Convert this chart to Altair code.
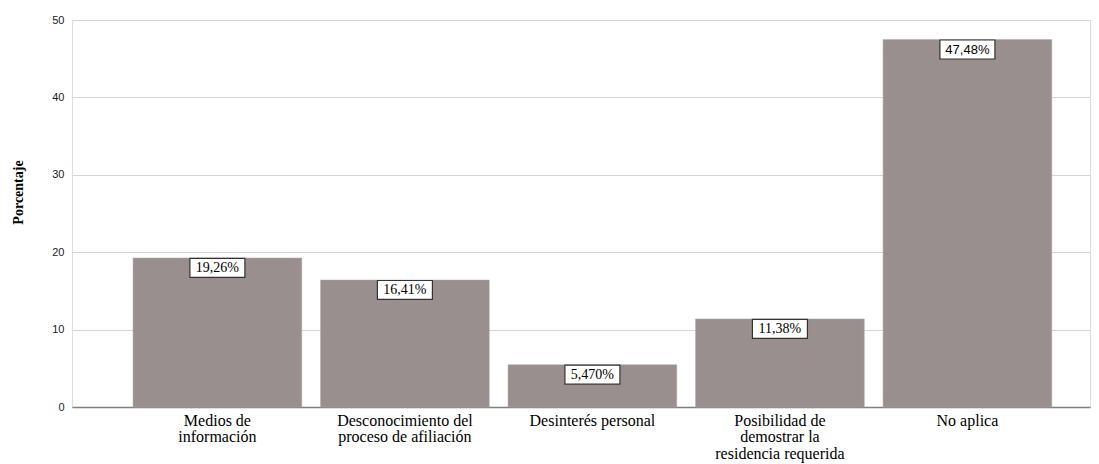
import altair as alt
import pandas as pd

categories = [
    "Medios de\ninformación",
    "Desconocimiento del\nproceso de afiliación",
    "Desinterés personal",
    "Posibilidad de\ndemostrar la\nresidencia requerida",
    "No aplica",
]
values = [19.26, 16.41, 5.47, 11.38, 47.48]
labels = ["19,26%", "16,41%", "5,470%", "11,38%", "47,48%"]
label_font = ["serif", "serif", "serif", "serif", "sans"]

df = pd.DataFrame({"cat": categories, "val": values, "lab": labels, "fnt": label_font})

SERIF = "Liberation Serif"

x = alt.X(
    "cat:N",
    sort=categories,
    title=None,
    scale=alt.Scale(paddingInner=0.1, paddingOuter=0.2646, align=0.615),
    axis=alt.Axis(
        labelAngle=0,
        labelExpr="split(datum.value, '\\n')",
        labelFont=SERIF,
        labelFontSize=16,
        labelLineHeight=16.5,
        labelColor="#000000",
        labelPadding=5,
        labelBaseline="top",
        ticks=False,
        domainColor="#808080",
        domainWidth=1.5,
        grid=False,
    ),
)
y = alt.Y(
    "val:Q",
    title="Porcentaje",
    scale=alt.Scale(domain=[0, 50], nice=False),
    axis=alt.Axis(
        values=[0, 10, 20, 30, 40, 50],
        labelFont="Liberation Sans",
        labelFontSize=11,
        labelColor="#222222",
        labelPadding=8,
        ticks=False,
        domain=False,
        gridColor="#d4d4d4",
        gridWidth=1,
        titleFont=SERIF,
        titleFontSize=14,
        titleFontWeight="bold",
        titleColor="#000000",
        titleX=-54,
        titleY=172,
        titleAngle=-90,
        titleAlign="center",
        titleBaseline="middle",
    ),
)

base = alt.Chart(df)

bars = base.mark_bar(color="#998f8f", stroke="#b3abab", strokeWidth=0.5).encode(x=x, y=y)

box_path = "M-1,-0.345L1,-0.345L1,0.345L-1,0.345Z"
boxes = base.mark_point(
    shape=box_path, size=3025, filled=True, fill="#ffffff", stroke="#333333",
    strokeWidth=1.2, opacity=1, yOffset=10,
).encode(x=x, y=y)

txt_serif = base.transform_filter("datum.fnt == 'serif'").mark_text(
    font=SERIF, fontSize=14, color="#000000", baseline="middle", yOffset=10,
).encode(x=x, y=y, text="lab:N")
txt_sans = base.transform_filter("datum.fnt == 'sans'").mark_text(
    font="Liberation Sans", fontSize=13, color="#000000", baseline="middle", yOffset=10,
).encode(x=x, y=y, text="lab:N")

chart = (
    alt.layer(bars, boxes, txt_serif, txt_sans)
    .properties(
        width=1018,
        height=387,
        autosize=alt.AutoSizeParams(type="none"),
        padding={"left": 64, "top": 12, "right": 1, "bottom": 56},
    )
    .configure_view(stroke=None)
    .configure_axisX(labelFont=SERIF)
    .configure(background="#ffffff")
)

chart.save("out.html", embed_options={"renderer": "svg", "actions": False})
